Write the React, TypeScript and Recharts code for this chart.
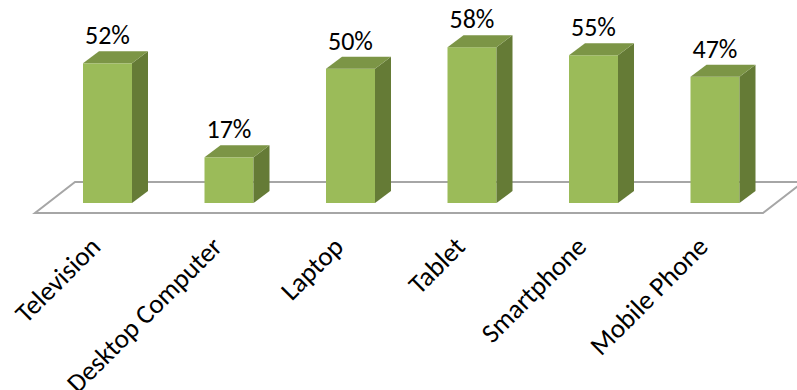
import { BarChart, Bar, XAxis, YAxis, LabelList, ReferenceLine } from "recharts";

const categories = [
  "Television",
  "Desktop Computer",
  "Laptop",
  "Tablet",
  "Smartphone",
  "Mobile Phone",
];
const shares = [52, 17, 50, 58, 55, 47];

const data = categories.map((name, i) => ({ name, share: shares[i] }));

const FONT = "Carlito, Lato, sans-serif";
const DX = 16;
const DY = 12;

// 3d looking column: front face, side and top
const Column = (props: any) => {
  const { x, y, width, height } = props;
  if (height <= 0) return null;
  const r = x + width;
  const b = y + height;
  return (
    <g>
      <rect x={x} y={y} width={width} height={height} fill="#9BBB59" />
      <polygon
        points={`${r},${y} ${r + DX},${y - DY} ${r + DX},${b - DY} ${r},${b}`}
        fill="#657B36"
      />
      <polygon
        points={`${x},${y} ${x + DX},${y - DY} ${r + DX},${y - DY} ${r},${y}`}
        fill="#7C9546"
      />
    </g>
  );
};

const Floor = (props: any) => {
  const { x1, x2, y1 } = props;
  const pts = [
    [x1 - 12, y1 + 10],
    [x2 - 13, y1 + 10],
    [x2 + 27, y1 - 21],
    [x1 + 28, y1 - 21],
  ]
    .map((p) => p.join(","))
    .join(" ");
  return <polygon points={pts} fill="#fff" stroke="#A6A6A6" strokeWidth={2} />;
};

const Tick = ({ x, y, payload }: any) => (
  <text
    x={x - 19}
    y={y + 24}
    dy="0.7em"
    textAnchor="end"
    transform={`rotate(-45, ${x - 19}, ${y + 24})`}
    fontFamily={FONT}
    fontSize={27}
    fill="#000"
  >
    {payload.value}
  </text>
);

export default function App() {
  return (
    <div style={{ position: "absolute", left: 0, top: 0, background: "#fff" }}>
      <BarChart
        width={797}
        height={390}
        data={data}
        margin={{ top: 15, right: 21, left: 47, bottom: 0 }}
      >
        <ReferenceLine
          y={0}
          ifOverflow="visible"
          shape={<Floor />}
          zIndex={-50}
        />
        <XAxis
          dataKey="name"
          height={187}
          axisLine={false}
          tickLine={false}
          interval={0}
          tick={<Tick />}
        />
        <YAxis hide domain={[0, 70]} />
        <Bar
          dataKey="share"
          barSize={49}
          shape={<Column />}
          isAnimationActive={false}
        >
          <LabelList
            dataKey="share"
            position="top"
            offset={19}
            formatter={(v: any) => `${v}%`}
            fill="#000"
            fontFamily={FONT}
            fontSize={26}
          />
        </Bar>
      </BarChart>
    </div>
  );
}
